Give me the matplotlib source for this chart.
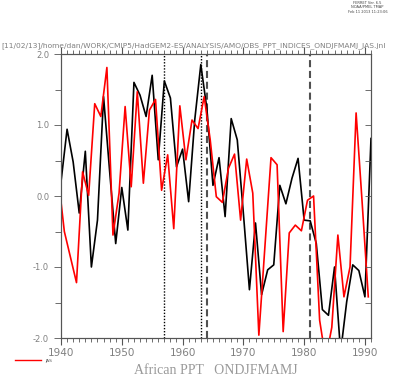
import numpy as np
import matplotlib
matplotlib.use("Agg")
import matplotlib.pyplot as plt
from matplotlib.ticker import MultipleLocator

# ONDJFMAMJ index (black), one value per year
years_ond = np.arange(1940, 1992)
ppt_ond = [0.20, 0.94, 0.48, -0.24, 0.63, -1.00, -0.34, 1.40, 0.35, -0.67,
           0.12, -0.48, 1.60, 1.42, 1.12, 1.70, 0.51, 1.62, 1.38, 0.41,
           0.66, -0.08, 1.07, 1.85, 1.23, 0.15, 0.54, -0.29, 1.09, 0.79,
           -0.24, -1.32, -0.38, -1.39, -1.04, -0.97, 0.15, -0.11, 0.25, 0.53,
           -0.34, -0.35, -0.67, -1.60, -1.68, -1.00, -2.20, -1.49, -0.97, -1.05,
           -1.42, 0.81]

# JAS index (red), centred mid-season
years_jas = np.arange(1939, 1991) + 0.55
ppt_jas = [0.26, -0.50, -0.86, -1.22, 0.34, 0.01, 1.30, 1.12, 1.81, -0.55,
           0.04, 1.26, 0.13, 1.47, 0.18, 1.21, 1.36, 0.08, 0.58, -0.46,
           1.27, 0.51, 1.07, 0.95, 1.40, 0.79, -0.01, -0.09, 0.39, 0.59,
           -0.34, 0.52, 0.04, -1.96, -0.71, 0.54, 0.44, -1.91, -0.52, -0.41,
           -0.49, -0.06, 0.00, -1.75, -2.30, -1.85, -0.55, -1.42, -1.00, 1.17,
           -0.10, -1.42]

dotted_years = [1957, 1963]
dashed_years = [1964, 1981]

header = "[11/02/13]/home/dan/WORK/CMIP5/HadGEM2-ES/ANALYSIS/AMO/OBS_PPT_INDICES_ONDJFMAMJ_JAS.jnl"
stamp = "FERRET Ver. 6.5\nNOAA/PMEL TMAP\nFeb 11 2013 11:23:06"
title = "African PPT   ONDJFMAMJ"

axis_grey = "#555555"
text_grey = "#808080"

fig = plt.figure(figsize=(3.93, 3.76), dpi=100, facecolor="w")
ax = fig.add_axes([61 / 393, 38 / 376, 310 / 393, 284 / 376])

ax.plot(years_ond, ppt_ond, color="black", lw=1.2, zorder=3)
ax.plot(years_jas, ppt_jas, color="#ff0000", lw=1.2, zorder=4)

for yr in dotted_years:
    ax.axvline(yr, color="black", lw=1.0, linestyle=(0, (1, 1.2)), zorder=2)
for yr in dashed_years:
    ax.axvline(yr, color="#505050", lw=1.5, linestyle=(0, (3.4, 1.8)), zorder=2)

ax.set_xlim(1940, 1991)
ax.set_ylim(-2.0, 2.0)

ax.xaxis.set_major_locator(MultipleLocator(10))
ax.xaxis.set_minor_locator(MultipleLocator(1))
ax.yaxis.set_major_locator(MultipleLocator(1.0))
ax.yaxis.set_minor_locator(MultipleLocator(0.5))
ax.yaxis.set_major_formatter(plt.FuncFormatter(lambda v, p: "%.1f" % v))

ax.tick_params(axis="x", which="both", direction="out", top=True, labeltop=False,
               colors=axis_grey, labelcolor=text_grey, labelsize=7.5, pad=2)
ax.tick_params(axis="x", which="major", length=5, width=0.8)
ax.tick_params(axis="x", which="minor", length=3, width=0.6)
ax.tick_params(axis="y", which="both", direction="out", colors=axis_grey,
               labelcolor=text_grey, labelsize=6, width=0.6)
ax.tick_params(axis="y", which="major", length=5)
ax.tick_params(axis="y", which="minor", length=4)

# inward ticks on the right spine
ax2 = ax.twinx()
ax2.set_ylim(-2.0, 2.0)
ax2.yaxis.set_major_locator(MultipleLocator(0.5))
ax2.tick_params(axis="y", direction="in", length=4, width=0.6, colors=axis_grey,
                labelright=False)

for a in (ax, ax2):
    for s in a.spines.values():
        s.set_color(axis_grey)
        s.set_linewidth(0.8)

fig.text(0.003, 322 / 376 + 0.012, header, fontsize=5.4, color=text_grey,
         ha="left", va="bottom")
fig.text(0.935, 0.997, stamp, fontsize=2.6, color="#444444", ha="center",
         va="top", linespacing=1.1)
fig.text(216 / 393, 1 - 371 / 376, title, fontsize=10, color="#999999",
         family="Liberation Serif", ha="center", va="center")

# legend line and label
fig.add_artist(plt.Line2D([15 / 393, 41 / 393], [1 - 360 / 376] * 2,
                          color="#ff0000", lw=1.0))
fig.text(45 / 393, 1 - 361 / 376, "JAS", fontsize=3.2, color="#555555",
         ha="left", va="center")

fig.savefig("out.png", dpi=100)
